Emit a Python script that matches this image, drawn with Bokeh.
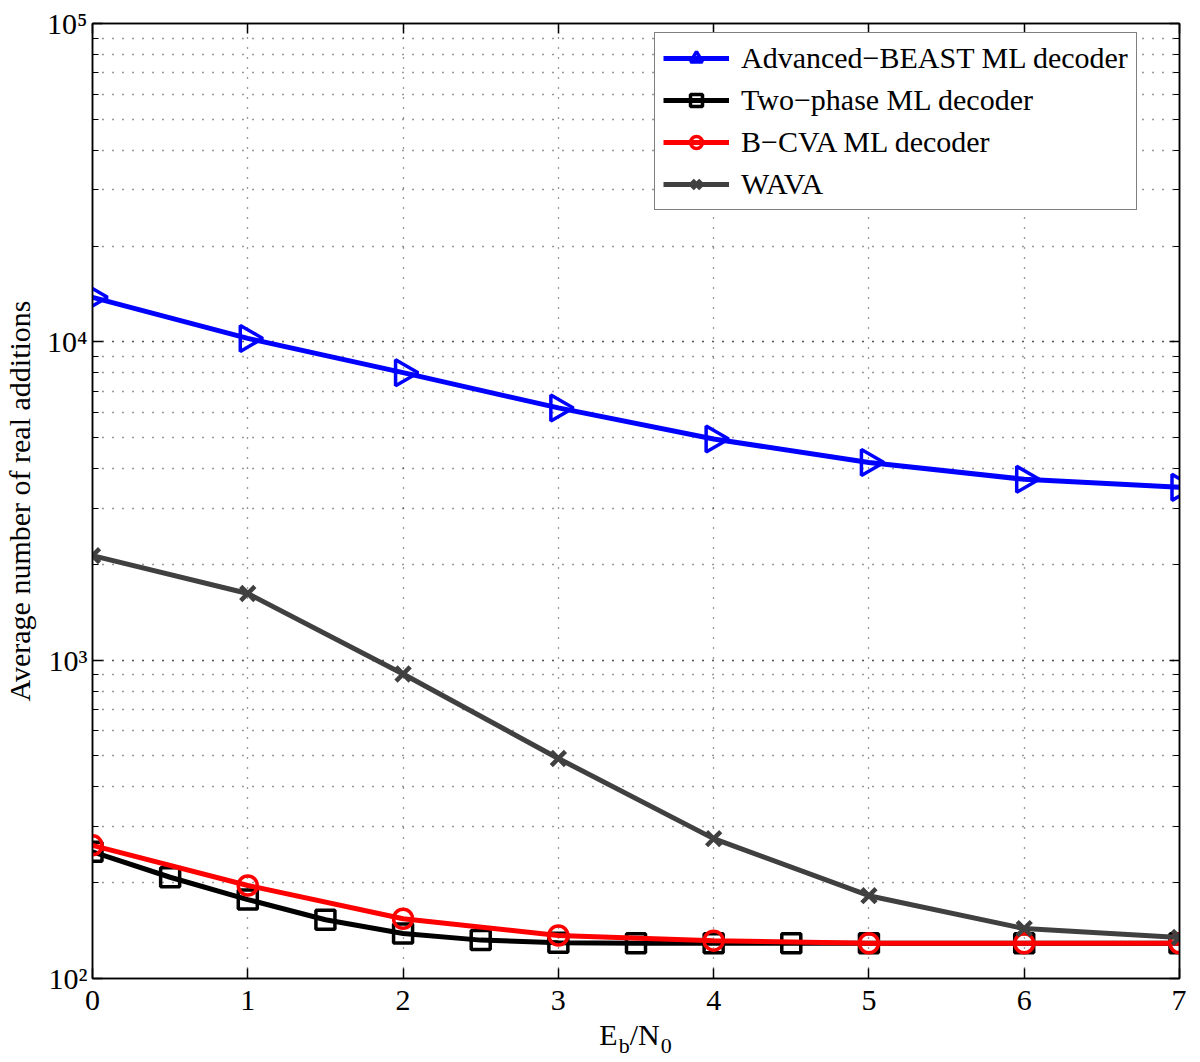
import numpy as np
from bokeh.plotting import figure
from bokeh.layouts import column
from bokeh.models import (Range1d, FixedTicker, LinearAxis, LogAxis, LogTicker,
                          Legend, LegendItem, CustomJSTickFormatter, Div)
from bokeh.embed import file_html
from bokeh.resources import INLINE

# ---------------- data ----------------
snr = [0, 1, 2, 3, 4, 5, 6, 7]
snr_two_phase = [0, 0.5, 1, 1.5, 2, 2.5, 3, 3.5, 4, 4.5, 5, 6, 7]

beast = [13800, 10250, 8000, 6200, 4950, 4180, 3700, 3490]
two_phase = [250, 208, 177, 153, 138.5, 132, 129.5, 129, 129, 129, 129, 129, 129]
bcva = [262, 196, 154, 136.5, 131.5, 129, 129, 129]
wava = [2130, 1620, 905, 491, 275, 182, 143.5, 134.5]

x_ticks = [0, 1, 2, 3, 4, 5, 6, 7]
y_ticks = [100, 1000, 10000, 100000]
y_tick_labels = ["10\u00b2", "10\u00b3", "10\u2074", "10\u2075"]

labels = ["Advanced\u2212BEAST ML decoder", "Two\u2212phase ML decoder",
          "B\u2212CVA ML decoder", "WAVA"]
y_label = "Average number of real additions"
x_label_main = ["E", "/N"]
x_label_sub = ["b", "0"]

FONT = "Liberation Serif"

p = figure(width=1186, height=1028, output_backend="svg", toolbar_location=None,
           y_axis_type="log", x_range=Range1d(0, 7), y_range=Range1d(100, 100000),
           min_border_left=82, min_border_top=23, min_border_right=7,
           min_border_bottom=50)
p.background_fill_color = "white"
p.border_fill_color = "white"
p.outline_line_color = "black"
p.outline_line_width = 1.5

blank = CustomJSTickFormatter(code="return '';")

# ---- axes ----
xa = p.xaxis[0]
xa.ticker = FixedTicker(ticks=x_ticks)
xa.major_label_text_font = FONT
xa.major_label_text_font_size = "30px"
xa.major_label_text_color = "black"
xa.major_label_standoff = 12
xa.major_tick_in = 10
xa.major_tick_out = 0
xa.minor_tick_line_color = None
xa.axis_line_width = 1.5
xa.major_tick_line_width = 1.5

ya = p.yaxis[0]
ya.ticker = LogTicker(num_minor_ticks=10)
ya.major_label_overrides = dict(zip(y_ticks, y_tick_labels))
ya.major_label_text_font = FONT
ya.major_label_text_font_size = "30px"
ya.major_label_text_color = "black"
ya.major_label_standoff = 5
ya.major_tick_in = 10
ya.major_tick_out = 0
ya.minor_tick_in = 6
ya.minor_tick_out = 0
ya.axis_line_width = 1.5
ya.major_tick_line_width = 1.5
ya.minor_tick_line_width = 1.2
ya.axis_label = y_label
ya.axis_label_text_font = FONT
ya.axis_label_text_font_size = "30px"
ya.axis_label_text_font_style = "normal"
ya.axis_label_text_color = "black"
ya.axis_label_standoff = 8

top_ax = LinearAxis(ticker=FixedTicker(ticks=x_ticks), formatter=blank,
                    major_label_text_font_size="1px",
                    major_label_standoff=0, major_tick_in=10, major_tick_out=0,
                    minor_tick_line_color=None, axis_line_width=1.5,
                    major_tick_line_width=1.5)
p.add_layout(top_ax, "above")
right_ax = LogAxis(ticker=LogTicker(num_minor_ticks=10), formatter=blank,
                   major_label_text_font_size="1px",
                   major_label_standoff=0, major_tick_in=10, major_tick_out=0,
                   minor_tick_in=6, minor_tick_out=0, axis_line_width=1.5,
                   major_tick_line_width=1.5, minor_tick_line_width=1.2)
p.add_layout(right_ax, "right")

# ---- grid ----
for g in (p.xgrid[0], p.ygrid[0]):
    g.grid_line_color = "black"
    g.grid_line_alpha = 0.8
    g.grid_line_dash = "1 9"
    g.grid_line_width = 1.3
p.xgrid[0].ticker = FixedTicker(ticks=x_ticks)
p.ygrid[0].minor_grid_line_color = "black"
p.ygrid[0].minor_grid_line_alpha = 0.8
p.ygrid[0].minor_grid_line_dash = "1 9"
p.ygrid[0].minor_grid_line_width = 1.3

# ---- series ----
LW = 5
r1l = p.line(snr, beast, line_color="#0000ff", line_width=LW)
r1m = p.scatter(snr, beast, marker="triangle", angle=-np.pi / 2, size=26,
                line_color="#0000ff", line_width=3.5, fill_color=None)
r2l = p.line(snr_two_phase, two_phase, line_color="black", line_width=LW)
r2m = p.scatter(snr_two_phase, two_phase, marker="square", size=19,
                line_color="black", line_width=3.5, fill_color=None)
r3l = p.line(snr, bcva, line_color="#ff0000", line_width=LW)
r3m = p.scatter(snr, bcva, marker="circle", size=19,
                line_color="#ff0000", line_width=3.5, fill_color=None)
r4l = p.line(snr, wava, line_color="#404040", line_width=LW)
r4m = p.scatter(snr, wava, marker="x", size=20,
                line_color="#404040", line_width=4.5)

legend = Legend(items=[LegendItem(label=labels[0], renderers=[r1l, r1m]),
                       LegendItem(label=labels[1], renderers=[r2l, r2m]),
                       LegendItem(label=labels[2], renderers=[r3l, r3m]),
                       LegendItem(label=labels[3], renderers=[r4l, r4m])],
                location=(562, 768))
legend.label_text_font = FONT
legend.label_text_font_size = "30px"
legend.label_text_color = "black"
legend.glyph_width = 66
legend.glyph_height = 30
legend.label_height = 30
legend.label_standoff = 12
legend.spacing = 8
legend.padding = 8
legend.margin = 0
legend.border_line_color = "black"
legend.border_line_width = 1.5
legend.background_fill_color = "white"
legend.background_fill_alpha = 1
p.add_layout(legend)

# ---- x-axis title E_b/N_0 as HTML below the plot ----
sub = ('<span style="font-size:22px; position:relative; top:8px; '
       'margin-left:1px;">{}</span>')
html = ('<div style="width:1097px; margin-left:82px; margin-top:-10px; '
        'text-align:center; font-family:\'Liberation Serif\'; font-size:30px; '
        'line-height:20px; color:black; white-space:nowrap;">'
        + x_label_main[0] + sub.format(x_label_sub[0])
        + x_label_main[1] + sub.format(x_label_sub[1]) + '</div>')
xlabel_div = Div(text=html, width=1186, height=30)

layout = column(p, xlabel_div, spacing=0)
open("out.html", "w").write(file_html(layout, INLINE))
